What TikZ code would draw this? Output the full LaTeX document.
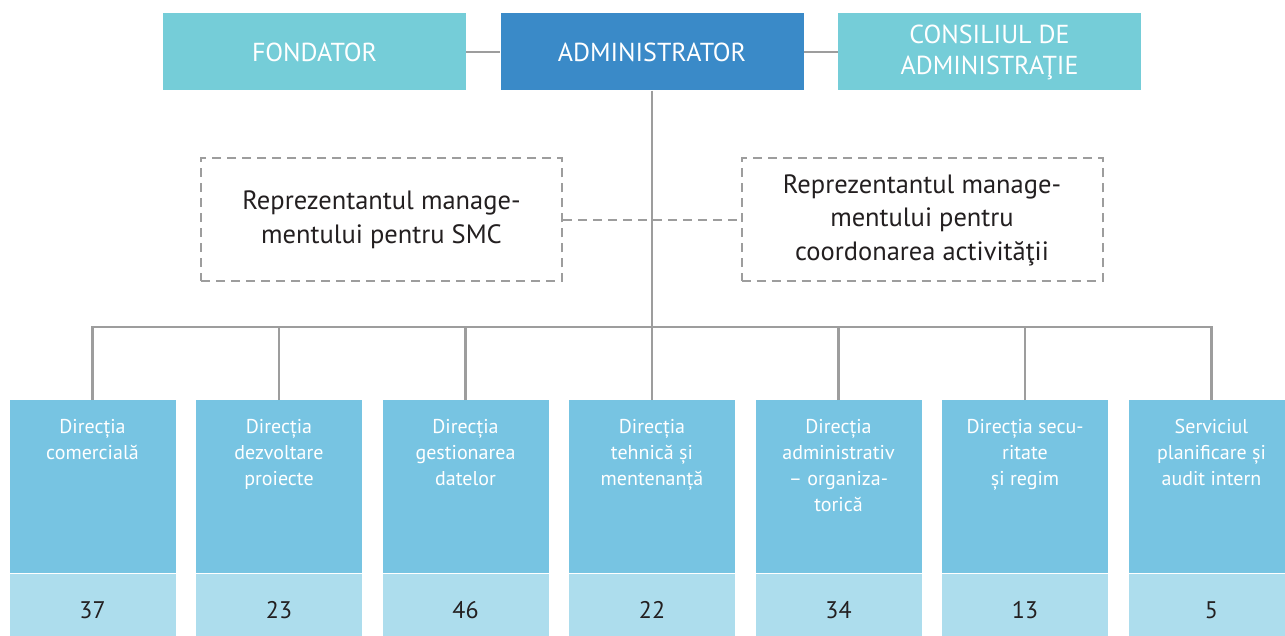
\documentclass[tikz,border=0pt]{standalone}
\usepackage{fontspec}
\setmainfont{PT Sans}
\usepackage{xcolor}
\usepackage{tikz}
\usetikzlibrary{positioning}

\definecolor{fondteal}{RGB}{117,205,216}
\definecolor{adminblue}{RGB}{58,138,200}
\definecolor{dirblue}{RGB}{119,196,226}
\definecolor{dirlight}{RGB}{173,221,237}
\definecolor{linegray}{RGB}{157,157,157}
\definecolor{textdark}{RGB}{35,31,32}

\newcommand{\boxtext}[1]{\parbox[t][173pt][t]{166pt}{\centering\fontsize{20}{25.8}\selectfont\vspace*{19.5pt}#1}}

\begin{document}
\begin{tikzpicture}[x=1pt, y=-1pt,
topnode/.style={minimum width=303pt, minimum height=77pt, text=white, align=center, font=\fontsize{26}{31}\selectfont},
repnode/.style={draw=linegray, line width=2pt, dash pattern=on 9pt off 6pt, minimum width=361pt, minimum height=123pt, align=center, text=textdark, font=\fontsize{26.5}{33.5}\selectfont},
dirnode/.style={fill=dirblue, inner sep=0pt, anchor=north, text=white},
countnode/.style={fill=dirlight, minimum width=166pt, minimum height=63pt, text=textdark, font=\fontsize{24}{28}\selectfont, text height=26pt, text depth=0pt},
link/.style={draw=linegray, line width=2.5pt},
replink/.style={draw=linegray, line width=2pt, dash pattern=on 9pt off 6pt},
]
\useasboundingbox (0,0) rectangle (1285,636);

%Nodes
\node[topnode, fill=fondteal] (fondator) at (314.5,52) {FONDATOR};
\node[topnode, fill=adminblue] (admin) at (652,52) {ADMINISTRATOR};
\node[topnode, fill=fondteal] (consiliu) at (989.5,52) {CONSILIUL DE\\ADMINISTRAŢIE};

\node[repnode] (rep_smc) at (381.5,220) {Reprezentantul manage-\\mentului pentru SMC};
\node[repnode] (rep_coord) at (922,220) {Reprezentantul manage-\\mentului pentru\\coordonarea activităţii};

\node[dirnode] (dir_com) at (92.5,400) {\boxtext{Direcția\\comercială}};
\node[dirnode] (dir_dezv) at (279,400) {\boxtext{Direcția\\dezvoltare\\proiecte}};
\node[dirnode] (dir_date) at (465.5,400) {\boxtext{Direcția\\gestionarea\\datelor}};
\node[dirnode] (dir_teh) at (652,400) {\boxtext{Direcția\\tehnică și\\mentenanță}};
\node[dirnode] (dir_adm) at (838.5,400) {\boxtext{Direcția\\administrativ\\– organiza-\\torică}};
\node[dirnode] (dir_sec) at (1025,400) {\boxtext{Direcția secu-\\ritate\\și regim}};
\node[dirnode] (serv_plan) at (1211.5,400) {\boxtext{Serviciul\\planificare și\\audit intern}};

\node[countnode, below=0pt of dir_com] (nr_com) {37};
\node[countnode, below=0pt of dir_dezv] (nr_dezv) {23};
\node[countnode, below=0pt of dir_date] (nr_date) {46};
\node[countnode, below=0pt of dir_teh] (nr_teh) {22};
\node[countnode, below=0pt of dir_adm] (nr_adm) {34};
\node[countnode, below=0pt of dir_sec] (nr_sec) {13};
\node[countnode, below=0pt of serv_plan] (nr_plan) {5};

\coordinate (bus) at (652,327);

%Lines
\draw[link] (fondator) -- (admin);
\draw[link] (admin) -- (consiliu);
\draw[link] (admin.south) -- (bus);
\draw[link] (dir_com.north) |- (bus) -| (serv_plan.north);
\draw[link] (dir_dezv.north) -- (dir_dezv.north |- bus);
\draw[link] (dir_date.north) -- (dir_date.north |- bus);
\draw[link] (dir_teh.north) -- (bus);
\draw[link] (dir_adm.north) -- (dir_adm.north |- bus);
\draw[link] (dir_sec.north) -- (dir_sec.north |- bus);
\draw[replink] (rep_smc) -- (rep_coord);

\end{tikzpicture}
\end{document}
